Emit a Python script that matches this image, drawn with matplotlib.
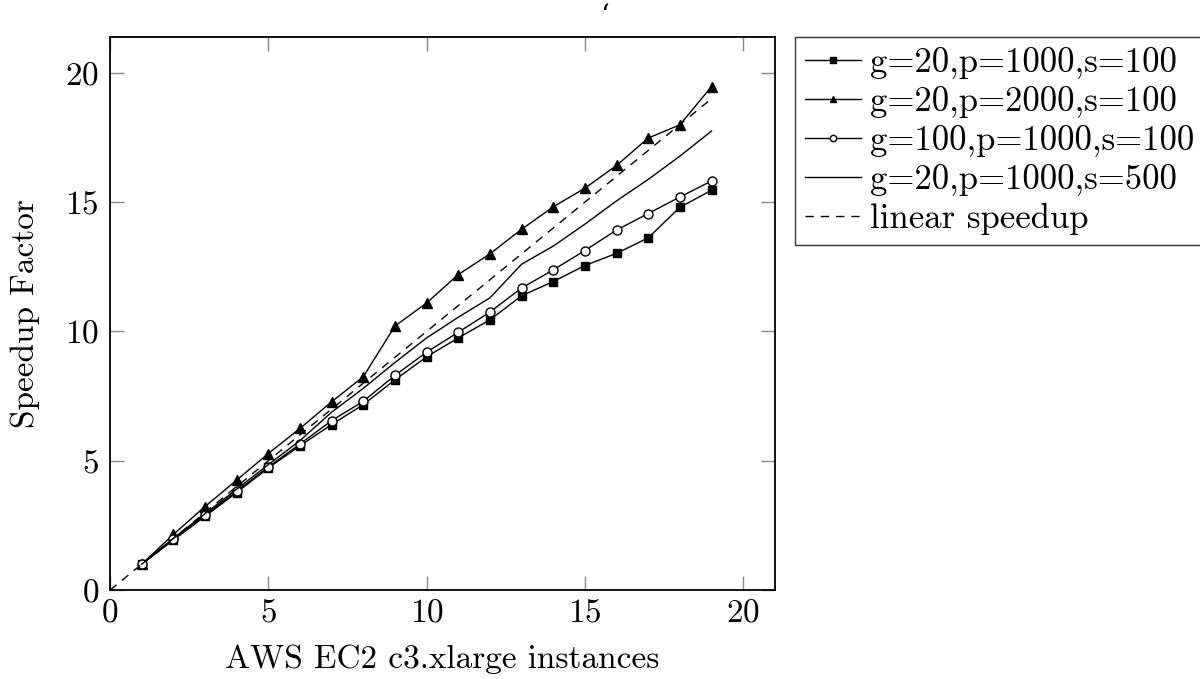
import matplotlib
matplotlib.use('Agg')
import matplotlib.pyplot as plt

# instances
x = [1, 2, 3, 4, 5, 6, 7, 8, 9, 10, 11, 12, 13, 14, 15, 16, 17, 18, 19]

# speedup series
g20_p1000_s100 = [1.0, 1.93, 2.85, 3.77, 4.72, 5.58, 6.4, 7.17, 8.13, 9.02,
                  9.75, 10.45, 11.38, 11.93, 12.55, 13.02, 13.62, 14.8, 15.46]
g20_p2000_s100 = [1.0, 2.15, 3.23, 4.25, 5.28, 6.25, 7.28, 8.25, 10.21, 11.1,
                  12.2, 13.0, 13.95, 14.82, 15.54, 16.42, 17.48, 17.99, 19.47]
g100_p1000_s100 = [1.0, 1.97, 2.9, 3.82, 4.76, 5.65, 6.55, 7.3, 8.3, 9.2,
                   9.97, 10.75, 11.68, 12.38, 13.13, 13.92, 14.56, 15.2, 15.82]
g20_p1000_s500 = [1.0, 2.0, 2.95, 3.9, 4.85, 5.78, 6.88, 7.8, 8.8, 9.75,
                  10.55, 11.3, 12.6, 13.3, 14.15, 15.05, 15.88, 16.78, 17.75]
linear_x = [0, 19]

labels = ['g=20,p=1000,s=100', 'g=20,p=2000,s=100',
          'g=100,p=1000,s=100', 'g=20,p=1000,s=500', 'linear speedup']

plt.rcParams['font.family'] = 'serif'
plt.rcParams['font.serif'] = ['cmr10', 'DejaVu Serif']
plt.rcParams['axes.formatter.use_mathtext'] = True
fs = 24

fig = plt.figure(figsize=(12, 6.79), dpi=100)
ax = fig.add_axes([0.0917, 0.131, 0.554, 0.815])

lw = 1.0
ax.plot(x, g20_p1000_s100, color='black', lw=lw, marker='s', ms=6,
        label=labels[0])
ax.plot(x, g20_p2000_s100, color='black', lw=lw, marker='^', ms=6.5,
        label=labels[1])
ax.plot(x, g100_p1000_s100, color='black', lw=lw, marker='o', ms=6.5,
        mfc='white', mew=1.0, label=labels[2])
ax.plot(x, g20_p1000_s500, color='black', lw=lw, label=labels[3])
ax.plot(linear_x, linear_x, color='black', lw=lw, ls=(0, (6, 5)),
        label=labels[4])

ax.set_xlim(0, 21)
ax.set_ylim(0, 21.4)
ax.set_xticks([0, 5, 10, 15, 20])
ax.set_yticks([0, 5, 10, 15, 20])
ax.tick_params(direction='in', length=10, width=1, color='#888888',
               top=True, right=True, labelsize=fs)
ax.tick_params(axis='x', pad=6)
ax.tick_params(axis='y', pad=8)
for sp in ax.spines.values():
    sp.set_linewidth(1.3)

ax.set_xlabel('AWS EC2 c3.xlarge instances', fontsize=fs, labelpad=12)
ax.set_ylabel('Speedup Factor', fontsize=fs, labelpad=18)

# stray quote mark above the plot
fig.text(605 / 1200, 1 - 16 / 679, '\u2018', fontsize=20,
         family=['DejaVu Serif'], ha='center', va='center')

leg = ax.legend(loc='upper left', bbox_to_anchor=(1.03, 1.0),
                frameon=True, fancybox=False, edgecolor='black',
                fontsize=25, borderpad=0.3, labelspacing=0.2,
                handlelength=1.6, handletextpad=0.28, borderaxespad=0,
                markerscale=0.7)
leg.get_frame().set_linewidth(1.0)

fig.savefig('out.png', dpi=100)
